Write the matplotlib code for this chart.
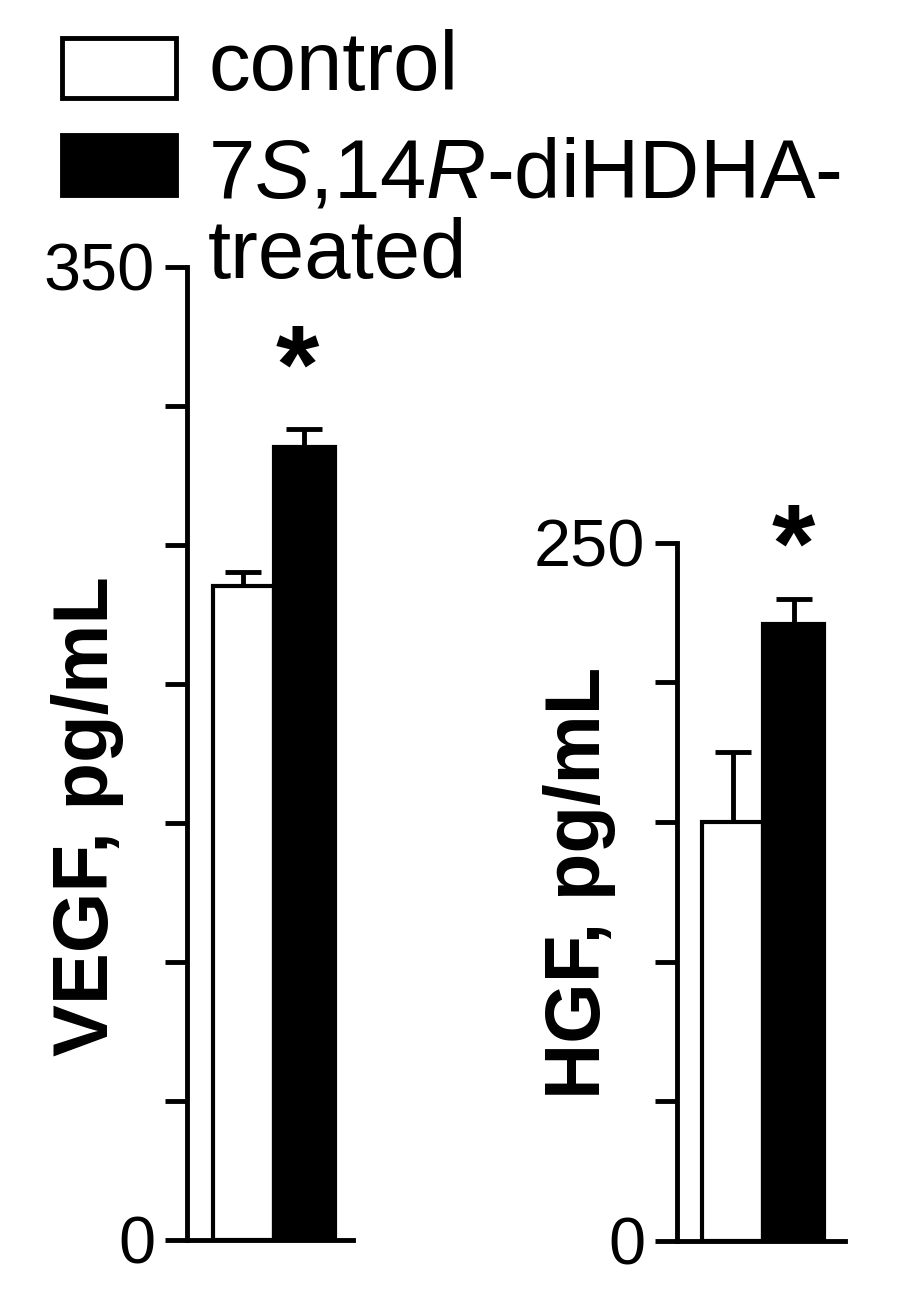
import matplotlib
matplotlib.use('Agg')
import matplotlib.pyplot as plt
from matplotlib.patches import Rectangle

plt.rcParams['font.family'] = ['Liberation Sans', 'DejaVu Sans']
plt.rcParams['mathtext.fontset'] = 'custom'
plt.rcParams['mathtext.rm'] = 'Liberation Sans'
plt.rcParams['mathtext.it'] = 'Liberation Sans:italic'

# data
groups = ['control', 'treated']
vegf_mean = [235, 285]
vegf_sem = [5, 6.5]
hgf_mean = [150, 221]
hgf_sem = [25, 9]
bar_colors = ['white', 'black']
vegf_ticks = [0, 50, 100, 150, 200, 250, 300, 350]
vegf_ticklabels = ['0', '', '', '', '', '', '', '350']
hgf_ticks = [0, 50, 100, 150, 200, 250]
hgf_ticklabels = ['0', '', '', '', '', '250']

W, H = 898, 1301
fig = plt.figure(figsize=(W / 100, H / 100), dpi=100)


def px(x, y):
    # pixel position (from top-left) to figure fraction
    return x / W, 1 - y / H


def make_panel(rect, means, sems, ticks, ticklabels, ymax, xlim):
    ax = fig.add_axes(rect)
    xs = [0, 1]
    ax.bar(xs, means, width=1, align='edge', color=bar_colors,
           edgecolor='black', linewidth=3, zorder=2)
    ax.errorbar([x + 0.5 for x in xs], means, yerr=[[0, 0], sems],
                fmt='none', ecolor='black', elinewidth=3.5, capsize=13,
                capthick=3.5, zorder=1)
    ax.set_xlim(*xlim)
    ax.set_ylim(0, ymax)
    ax.set_yticks(ticks)
    ax.set_yticklabels(ticklabels)
    ax.set_xticks([])
    for s in ['top', 'right']:
        ax.spines[s].set_visible(False)
    for s in ['left', 'bottom']:
        ax.spines[s].set_linewidth(3.5)
    ax.tick_params(axis='y', length=16, width=3.5, labelsize=48, pad=7)
    return ax


# VEGF panel
make_panel([187 / W, (H - 1239.5) / H, 166 / W, 973 / H],
           vegf_mean, vegf_sem, vegf_ticks, vegf_ticklabels, 350,
           (-0.418, 2.303))
# HGF panel
make_panel([677 / W, (H - 1240.7) / H, 168 / W, 698 / H],
           hgf_mean, hgf_sem, hgf_ticks, hgf_ticklabels, 250,
           (-0.41, 2.344))

# y labels
fig.text(*px(108, 816), 'VEGF, pg/mL', rotation=90, rotation_mode='anchor',
         ha='center', va='baseline', fontsize=56, fontweight='bold')
fig.text(*px(600, 883), 'HGF, pg/mL', rotation=90, rotation_mode='anchor',
         ha='center', va='baseline', fontsize=56, fontweight='bold')

# significance stars
fig.text(*px(297, 403), '*', ha='center', va='baseline', fontsize=80,
         fontweight='bold')
fig.text(*px(793, 582), '*', ha='center', va='baseline', fontsize=80,
         fontweight='bold')

# legend
fig.add_artist(Rectangle(px(62, 98), 114 / W, 60 / H, transform=fig.transFigure,
                         facecolor='white', edgecolor='black', linewidth=3.5))
fig.add_artist(Rectangle(px(62, 195), 114 / W, 60 / H, transform=fig.transFigure,
                         facecolor='black', edgecolor='black', linewidth=3.5))
fig.text(*px(208, 90), 'control', ha='left', va='baseline', fontsize=60)
fig.text(*px(208, 197), r'7$\mathit{S}$,14$\mathit{R}$-diHDHA-', ha='left',
         va='baseline', fontsize=60)
fig.text(*px(208, 278), 'treated', ha='left', va='baseline', fontsize=60)

fig.savefig('out.png', dpi=100)
